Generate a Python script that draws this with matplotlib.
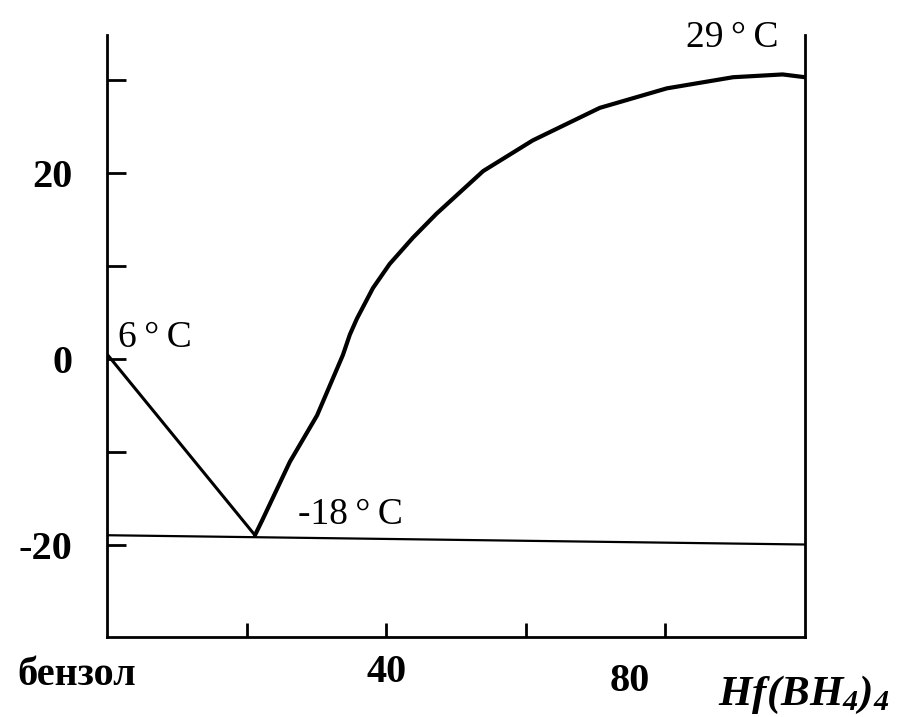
import matplotlib
matplotlib.use('Agg')
import matplotlib.pyplot as plt
from matplotlib.transforms import ScaledTranslation

plt.rcParams['font.family'] = ['Liberation Serif', 'DejaVu Serif']
plt.rcParams['mathtext.fontset'] = 'custom'
plt.rcParams['mathtext.rm'] = 'Liberation Serif'
plt.rcParams['mathtext.it'] = 'Liberation Serif:italic'
plt.rcParams['mathtext.bf'] = 'Liberation Serif:bold'
plt.rcParams['mathtext.bfit'] = 'Liberation Serif:bold:italic'

# liquidus, benzene side (straight line from benzene melting point to eutectic)
left_x = [0, 21.2]
left_t = [0.5, -19.0]

# liquidus, Hf(BH4)4 side
right_x = [21.2, 22.3, 26.2, 30.1, 33.8, 34.8, 35.8, 38.1, 40.5, 43.8, 47.2,
           53.9, 61.0, 70.6, 80.2, 89.7, 96.8, 100]
right_t = [-19.0, -17.3, -11.1, -6.1, 0.4, 2.6, 4.3, 7.6, 10.2, 13.0, 15.6,
           20.2, 23.5, 27.0, 29.1, 30.3, 30.6, 30.3]

# eutectic line
eut_x = [0, 100]
eut_t = [-19.0, -20.0]

yticks = [-20, -10, 0, 10, 20, 30]
ylabels = ['-20', '', '0', '', '20', '']
xticks = [20, 40, 60, 80]
xlabels = ['', '40', '', '80']

fig = plt.figure(figsize=(8.99, 7.17), dpi=100)
ax = fig.add_axes([0.119, 0.111, 0.7764, 0.8396])

ax.plot(left_x, left_t, color='black', lw=2.2, solid_capstyle='round')
ax.plot(right_x, right_t, color='black', lw=3.0, solid_capstyle='round',
        solid_joinstyle='round')
ax.plot(eut_x, eut_t, color='black', lw=1.6)

ax.set_xlim(0, 100)
ax.set_ylim(-30, 34.8)

ax.spines['top'].set_visible(False)
for s in ['left', 'right', 'bottom']:
    ax.spines[s].set_linewidth(2.0)

ax.set_yticks(yticks)
ax.set_yticklabels(ylabels, fontsize=29, fontweight='bold')
ax.set_xticks(xticks)
ax.set_xticklabels(xlabels, fontsize=29, fontweight='bold')
ax.tick_params(axis='y', direction='in', length=14, width=2, pad=25)
ax.tick_params(axis='x', direction='in', length=10, width=2, pad=12)

# the "80" label sits a bit left of and below its tick in the original
lab80 = ax.get_xticklabels()[3]
lab80.set_transform(lab80.get_transform() + ScaledTranslation(-0.36, -0.09, fig.dpi_scale_trans))

ax.text(-12.9, -32.1, 'бензол', fontsize=29, fontweight='bold', ha='left', va='top',
        clip_on=False)
ax.text(87.5, -37.3, r'$\mathbfit{Hf(BH_{4})_{4}}$', fontsize=31, ha='left',
        va='baseline', clip_on=False)

ax.text(1.6, 1.3, '6\u2009°\u2009C', fontsize=27, ha='left', va='baseline')
ax.text(27.3, -17.8, '-18\u2009°\u2009C', fontsize=27, ha='left', va='baseline')
ax.text(82.9, 33.5, '29\u2009°\u2009C', fontsize=27, ha='left', va='baseline', clip_on=False)

fig.savefig('out.png', dpi=100)
